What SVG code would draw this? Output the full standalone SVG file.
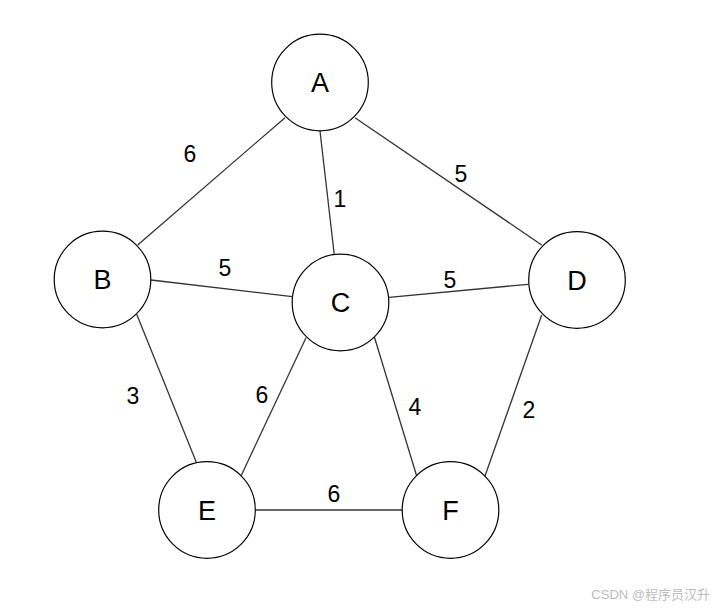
<svg xmlns="http://www.w3.org/2000/svg" width="722" height="609" viewBox="0 0 722 609">
<style>
.node circle{fill:#fff;stroke:#000;stroke-width:1.2}
.node text{font-family:"Liberation Sans",Arial,sans-serif;font-size:27px;fill:#000;text-anchor:middle}
#edges line{stroke:#333;stroke-width:1.3}
.lbl{font-family:"Liberation Sans",Arial,sans-serif;font-size:23px;fill:#000;text-anchor:middle}
.wm{font-family:"Liberation Sans","Noto Sans CJK SC",sans-serif;font-size:13px;fill:#bbb;text-anchor:end}
</style>
<rect width="722" height="609" fill="#fff"/>
<g id="edges">
<line x1="285" y1="117.7" x2="137.7" y2="245"/>
<line x1="320" y1="131" x2="334.3" y2="255"/>
<line x1="355" y1="117.7" x2="541.7" y2="245"/>
<line x1="151" y1="280" x2="292.3" y2="296.7"/>
<line x1="389" y1="297.3" x2="528.3" y2="284.3"/>
<line x1="136.7" y1="314.3" x2="196.7" y2="463.3"/>
<line x1="306" y1="337.7" x2="241" y2="476"/>
<line x1="374.3" y1="336.7" x2="416.7" y2="476"/>
<line x1="541.7" y1="315" x2="485" y2="476"/>
<line x1="255.7" y1="510" x2="402.3" y2="510"/>
<text class="lbl" x="190" y="162">6</text>
<text class="lbl" x="340" y="207">1</text>
<text class="lbl" x="461" y="182">5</text>
<text class="lbl" x="225" y="276">5</text>
<text class="lbl" x="450" y="288">5</text>
<text class="lbl" x="133" y="404">3</text>
<text class="lbl" x="262" y="403">6</text>
<text class="lbl" x="415" y="415">4</text>
<text class="lbl" x="529" y="418">2</text>
<text class="lbl" x="334" y="502">6</text>
</g>
<g id="A" class="node"><circle cx="320" cy="82.5" r="48.3"/><text x="320" y="92">A</text></g>
<g id="B" class="node"><circle cx="102.5" cy="279.5" r="48.3"/><text x="102.5" y="289">B</text></g>
<g id="C" class="node"><circle cx="340.5" cy="302.5" r="48.3"/><text x="340.5" y="312">C</text></g>
<g id="D" class="node"><circle cx="577" cy="280" r="48.3"/><text x="577" y="289.5">D</text></g>
<g id="E" class="node"><circle cx="207" cy="510" r="48.3"/><text x="207" y="519.5">E</text></g>
<g id="F" class="node"><circle cx="450.5" cy="510" r="48.3"/><text x="450.5" y="519.5">F</text></g>
<text class="wm" x="710" y="599">CSDN @程序员汉升</text>
</svg>
